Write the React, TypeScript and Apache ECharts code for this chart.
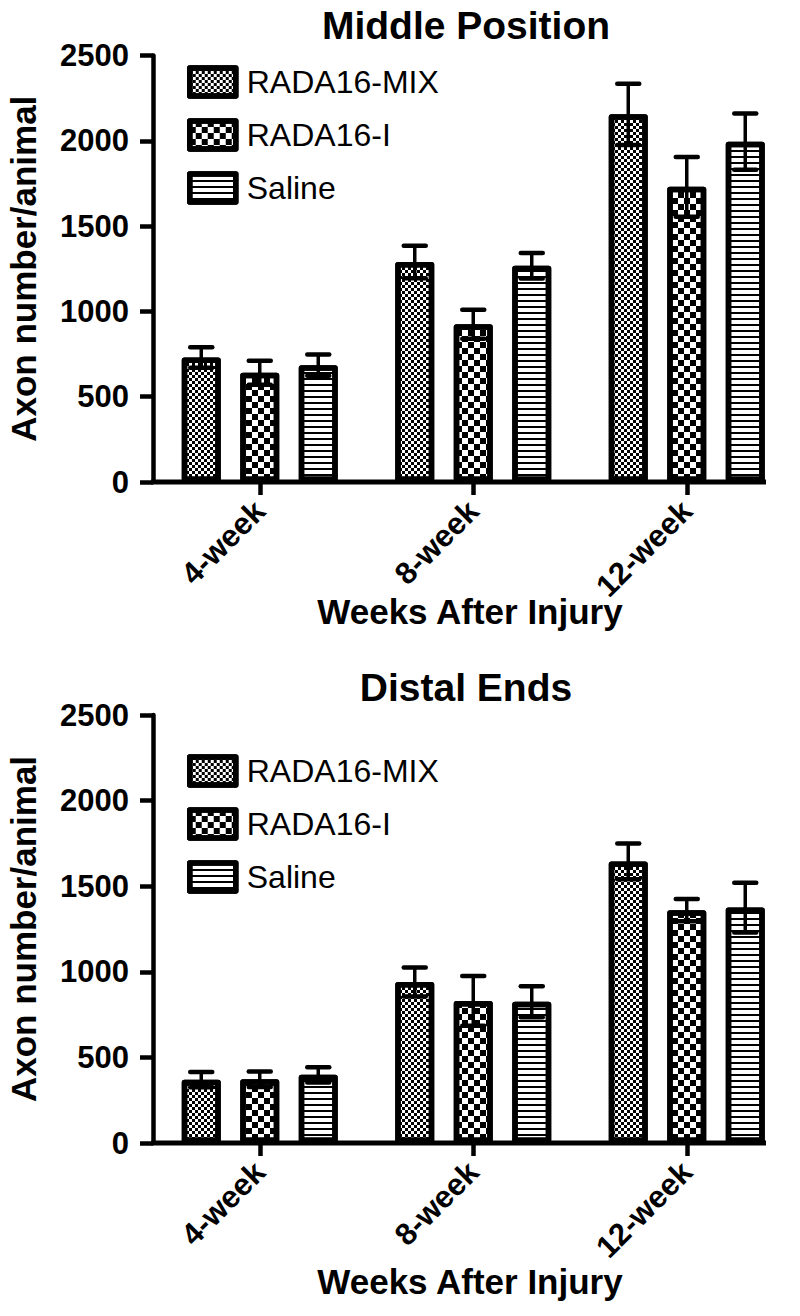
import React, { useEffect, useRef } from "react";
import * as echarts from "echarts";

const categories = ["4-week", "8-week", "12-week"];
const seriesNames = ["RADA16-MIX", "RADA16-I", "Saline"];
const panelTitles = ["Middle Position", "Distal Ends"];
const yAxisTitle = "Axon number/animal";
const xAxisTitle = "Weeks After Injury";
const yMin = 0;
const yMax = 2500;
const yStep = 500;

// Middle Position
const middleMix = [730, 1290, 2155];
const middleMixErr = [60, 95, 180];
const middleI = [640, 925, 1730];
const middleIErr = [70, 85, 175];
const middleSaline = [685, 1268, 1995];
const middleSalineErr = [62, 75, 165];

// Distal Ends
const distalMix = [370, 940, 1645];
const distalMixErr = [45, 85, 105];
const distalI = [372, 830, 1360];
const distalIErr = [45, 145, 65];
const distalSaline = [398, 825, 1375];
const distalSalineErr = [45, 90, 145];

const FONT = "Liberation Sans, Arial, Helvetica, sans-serif";
const BAR_W = 39;
const BAR_GAP = 0.5;
const GRID_LEFT = 153;
const GRID_W = 640.5;
const AXIS_END = 766;
const GRIDS = [
  { top: 55.5, height: 426.5 },
  { top: 715, height: 428 },
];

const decals = [
  { symbol: "rect", symbolSize: 1, dashArrayX: [[3, 3], [0, 3, 3, 0]], dashArrayY: [3, 0], color: "#000", backgroundColor: "#fff" },
  { symbol: "rect", symbolSize: 1, dashArrayX: [[6, 6], [0, 6, 6, 0]], dashArrayY: [6, 0], color: "#000", backgroundColor: "#fff" },
  { symbol: "rect", symbolSize: 1, dashArrayX: [1, 0], dashArrayY: [1.6, 4], color: "#000", backgroundColor: "#fff" },
];

const panels = [
  { values: [middleMix, middleI, middleSaline], errs: [middleMixErr, middleIErr, middleSalineErr] },
  { values: [distalMix, distalI, distalSaline], errs: [distalMixErr, distalIErr, distalSalineErr] },
];

export default function App() {
  const ref = useRef<HTMLDivElement>(null);
  useEffect(() => {
    document.body.style.margin = "0";
    const chart = echarts.init(ref.current as HTMLDivElement, null, { renderer: "svg" });
    const grid = GRIDS.map((g) => ({ left: GRID_LEFT, width: GRID_W, top: g.top, height: g.height, containLabel: false }));
    const xAxis = GRIDS.map((_, i) => ({
      type: "category",
      gridIndex: i,
      data: categories,
      axisLine: { show: false },
      axisTick: { show: true, alignWithLabel: true, length: 13, lineStyle: { color: "#000", width: 4.5 } },
      axisLabel: { rotate: 45, fontSize: 31, fontWeight: "bold", color: "#000", fontFamily: FONT, margin: 24 },
      splitLine: { show: false },
    }));
    const yAxis = GRIDS.map((_, i) => ({
      type: "value",
      gridIndex: i,
      min: yMin,
      max: yMax,
      interval: yStep,
      axisLine: { show: true, lineStyle: { color: "#000", width: 4.5 } },
      axisTick: { show: true, length: 13, lineStyle: { color: "#000", width: 4.5 } },
      axisLabel: {
        fontSize: 31,
        fontWeight: "bold",
        color: "#000",
        fontFamily: FONT,
        margin: 24,
        formatter: (v: number) => String(v),
      },
      splitLine: { show: false },
    }));
    const series: any[] = [];
    const spacing = BAR_W * (1 + BAR_GAP);
    panels.forEach((p, pi) => {
      seriesNames.forEach((name, si) => {
        series.push({
          type: "bar",
          name,
          xAxisIndex: pi,
          yAxisIndex: pi,
          data: p.values[si],
          barWidth: BAR_W,
          barGap: BAR_GAP * 100 + "%",
          itemStyle: { color: "#fff", borderColor: "#000", borderWidth: 5.5, borderJoin: "round", decal: decals[si] },
          emphasis: { disabled: true },
        });
      });
      const errData: number[][] = [];
      seriesNames.forEach((_, si) => {
        categories.forEach((_, ci) => {
          errData.push([ci, p.values[si][ci], p.errs[si][ci], si]);
        });
      });
      series.push({
        type: "custom",
        name: "err" + pi,
        xAxisIndex: pi,
        yAxisIndex: pi,
        data: errData,
        z: 5,
        renderItem: (params: any, api: any) => {
          const ci = api.value(0);
          const v = api.value(1);
          const e = api.value(2);
          const s = api.value(3);
          const hi = api.coord([ci, v + e]);
          const lo = api.coord([ci, v - e]);
          const x = hi[0] + (s - 1) * spacing;
          const hw = 11;
          const st = { stroke: "#000", lineWidth: 4.5, lineCap: "round" };
          return {
            type: "group",
            children: [
              { type: "line", shape: { x1: x, y1: hi[1], x2: x, y2: lo[1] }, style: { stroke: "#000", lineWidth: 3.5 } },
              { type: "line", shape: { x1: x - hw, y1: hi[1], x2: x + hw, y2: hi[1] }, style: st },
              { type: "line", shape: { x1: x - hw, y1: lo[1], x2: x + hw, y2: lo[1] }, style: st },
            ],
          };
        },
      });
    });
    const legend = GRIDS.map((g, i) => ({
      data: seriesNames,
      orient: "vertical",
      left: 182,
      top: i === 0 ? 60 : 749,
      icon: "rect",
      itemWidth: 46,
      itemHeight: 28,
      itemGap: 19,
      selectedMode: false,
      itemStyle: { borderWidth: 5.5, borderColor: "#000" },
      textStyle: { fontSize: 32, fontFamily: FONT, color: "#000", lineHeight: 34, padding: [0, 0, 0, 6] },
    }));
    const graphic: any[] = [];
    GRIDS.forEach((g, i) => {
      const base = g.top + g.height;
      graphic.push({
        type: "line",
        z: 10,
        shape: { x1: GRID_LEFT - 2, y1: base, x2: AXIS_END, y2: base },
        style: { stroke: "#000", lineWidth: 5 },
      });
      graphic.push({
        type: "text",
        x: 466,
        y: i === 0 ? 25 : 687,
        style: { text: panelTitles[i], font: `bold 39px ${FONT}`, fill: "#000", textAlign: "center", textVerticalAlign: "middle" },
      });
      graphic.push({
        type: "text",
        x: 470,
        y: i === 0 ? 611 : 1281,
        style: { text: xAxisTitle, font: `bold 35px ${FONT}`, fill: "#000", textAlign: "center", textVerticalAlign: "middle" },
      });
      graphic.push({
        type: "text",
        x: 23,
        y: g.top + g.height / 2,
        rotation: Math.PI / 2,
        style: { text: yAxisTitle, font: `bold 35px ${FONT}`, fill: "#000", textAlign: "center", textVerticalAlign: "middle" },
      });
    });
    chart.setOption({
      animation: false,
      backgroundColor: "#fff",
      grid,
      xAxis,
      yAxis,
      legend,
      series,
      graphic,
    });
    return () => chart.dispose();
  }, []);
  return <div ref={ref} style={{ width: 800, height: 1316 }} />;
}
